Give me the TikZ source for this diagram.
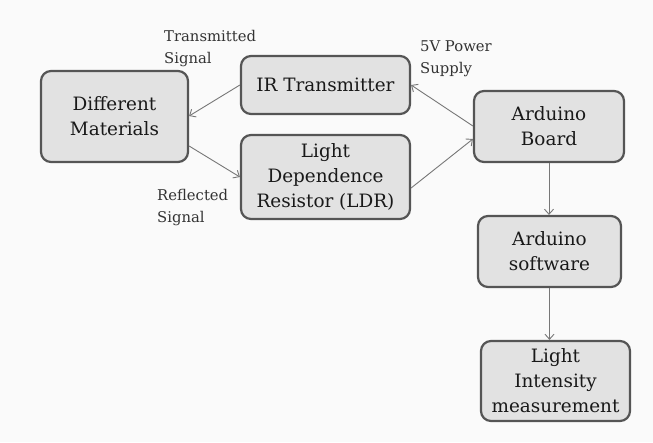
\documentclass[tikz,border=0pt]{standalone}
\usepackage{fontspec}
\setmainfont{DejaVu Serif}
\usetikzlibrary{arrows.meta}
\definecolor{boxfill}{HTML}{E2E2E2}
\definecolor{boxline}{HTML}{555555}
\definecolor{arrowc}{HTML}{777777}
\definecolor{bg}{HTML}{FAFAFA}
\begin{document}
\begin{tikzpicture}[x=1pt,y=-1pt,
  blk/.style={draw=boxline, fill=boxfill, line width=2.2pt, rounded corners=10pt,
    align=center, font=\fontsize{18.4}{25}\selectfont, inner sep=0pt, text=black!90},
  lbl/.style={align=left, anchor=north west, font=\fontsize{14.8}{22}\selectfont, inner sep=0pt, text=black!80},
  conn/.style={draw=arrowc, line width=0.9pt, -{Straight Barb[length=5pt,width=9pt]}}]
\fill[bg] (0,0) rectangle (653,442);
\useasboundingbox (0,0) rectangle (653,442);
\node[blk, minimum width=147pt, minimum height=91pt] (dm) at (114.5,116.5) {Different\\Materials};
\node[blk, minimum width=169pt, minimum height=58pt] (ir) at (325.5,85) {IR Transmitter};
\node[blk, minimum width=169pt, minimum height=84pt] (ldr) at (325.5,177) {Light\\Dependence\\Resistor (LDR)};
\node[blk, minimum width=150pt, minimum height=71pt] (ab) at (549,126.5) {Arduino\\Board};
\node[blk, minimum width=143pt, minimum height=71pt] (as) at (549.5,251.5) {Arduino\\software};
\node[blk, minimum width=149pt, minimum height=80pt] (li) at (555.5,381) {Light\\Intensity\\measurement};
\draw[conn] (ir.west) -- (dm.east |- 0,116);
\draw[conn] (dm.east |- 0,146) -- (ldr.west |- 0,177);
\draw[conn] (ab.west |- 0,126) -- (ir.east |- 0,85);
\draw[conn] (ldr.east |- 0,188) -- (ab.west |- 0,139);
\draw[conn] (ab.south) -- (as.north -| ab.south);
\draw[conn] (as.south) -- (li.north -| as.south);
\node[lbl] (t1) at (164,30) {Transmitted\\Signal};
\node[lbl] (t2) at (157,189) {Reflected\\Signal};
\node[lbl] (t3) at (420,41) {5V Power\\Supply};
\end{tikzpicture}
\end{document}
